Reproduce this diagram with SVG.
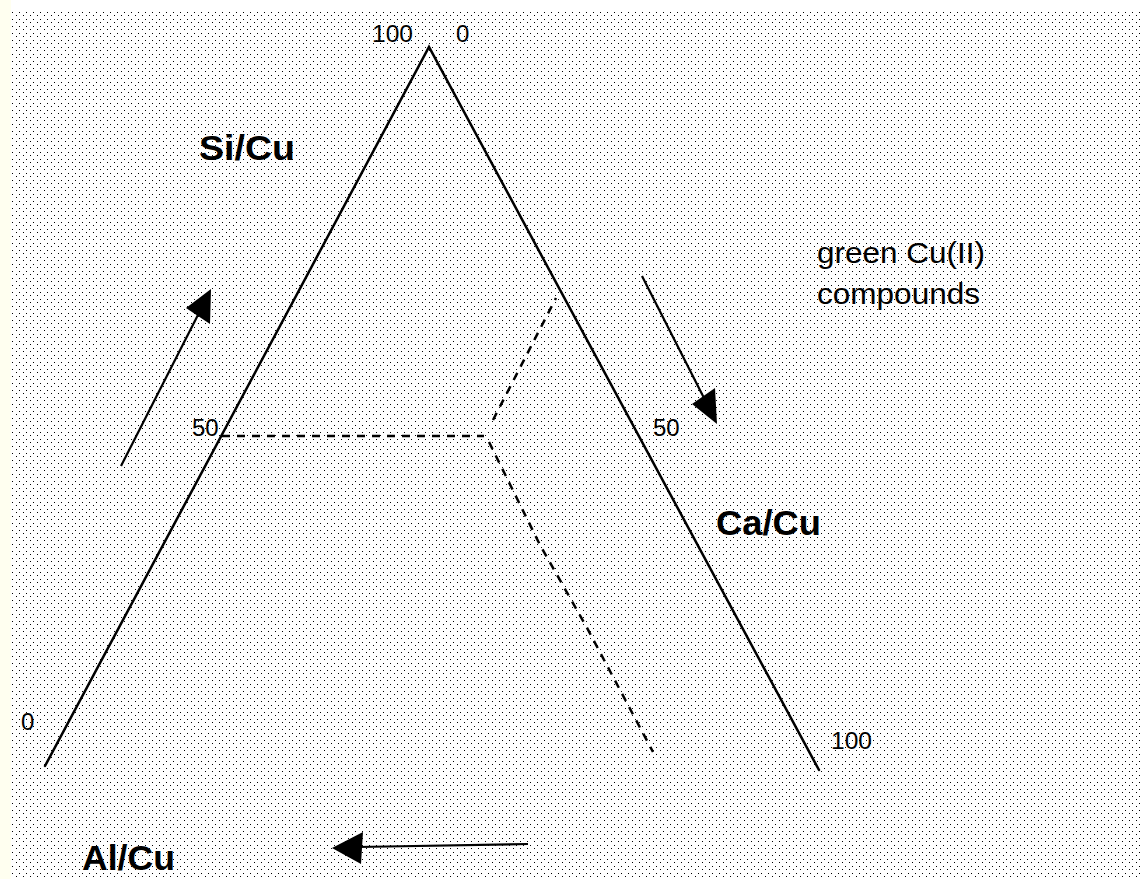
<svg xmlns="http://www.w3.org/2000/svg" width="1140" height="879" viewBox="0 0 1140 879">
  <defs>
    <pattern id="dots" patternUnits="userSpaceOnUse" x="12" y="12" width="7" height="7">
      <rect x="0" y="0" width="1" height="1" fill="#000"/>
      <rect x="4" y="3" width="1" height="1" fill="#000"/>
    </pattern>
    <style>
      .axis { fill: none; stroke: #000; stroke-width: 2.5; stroke-linecap: round; }
      .dash { fill: none; stroke: #000; stroke-width: 2.5; stroke-dasharray: 8 7; }
      .arr { fill: none; stroke: #000; stroke-width: 2.2; }
      .head { fill: #000; stroke: none; }
      .num { font-family: "Liberation Sans", Arial, sans-serif; font-size: 24px; fill: #000; }
      .lbl { font-family: "Liberation Sans", Arial, sans-serif; font-size: 35px; font-weight: bold; fill: #000; }
      .note { font-family: "Liberation Sans", Arial, sans-serif; font-size: 29px; fill: #000; }
    </style>
  </defs>

  <g id="background">
    <rect x="0" y="0" width="1140" height="879" fill="#ffffff"/>
    <rect x="0" y="0" width="11" height="879" fill="#fffff0"/>
    <rect x="11" y="12" width="1129" height="867" fill="url(#dots)"/>
  </g>

  <g id="triangle">
    <polyline class="axis" points="45,766 429,47 819,770"/>
  </g>

  <g id="boundaries">
    <line class="dash" x1="222" y1="436" x2="484" y2="436"/>
    <line class="dash" x1="493" y1="420" x2="556" y2="298"/>
    <polyline class="dash" points="489,442 540,545 586,626 653,752"/>
  </g>

  <g id="connectors">
    <g id="arrow-si">
      <line class="arr" x1="121" y1="466" x2="201" y2="309"/>
      <polygon class="head" points="211,289 186,308 210,324"/>
    </g>
    <g id="arrow-ca">
      <line class="arr" x1="642" y1="276" x2="705" y2="400"/>
      <polygon class="head" points="717,424 692,404 715,388"/>
    </g>
    <g id="arrow-al">
      <line class="arr" x1="528" y1="844" x2="358" y2="847"/>
      <polygon class="head" points="332,848 363,832 361,864"/>
    </g>
  </g>

  <g id="tick-labels">
    <text class="num" x="372" y="42" textLength="41" lengthAdjust="spacingAndGlyphs">100</text>
    <text class="num" x="456" y="42">0</text>
    <text class="num" x="192" y="436">50</text>
    <text class="num" x="653" y="436">50</text>
    <text class="num" x="21" y="730">0</text>
    <text class="num" x="831" y="749" textLength="41" lengthAdjust="spacingAndGlyphs">100</text>
  </g>

  <g id="label-si">
    <text class="lbl" x="199" y="160" textLength="96" lengthAdjust="spacingAndGlyphs">Si/Cu</text>
  </g>
  <g id="label-ca">
    <text class="lbl" x="716" y="535" textLength="105" lengthAdjust="spacingAndGlyphs">Ca/Cu</text>
  </g>
  <g id="label-al">
    <text class="lbl" x="82" y="870" textLength="93" lengthAdjust="spacingAndGlyphs">Al/Cu</text>
  </g>
  <g id="label-green">
    <text class="note" x="817" y="263" textLength="168" lengthAdjust="spacingAndGlyphs">green Cu(II)</text>
    <text class="note" x="817" y="304" textLength="163" lengthAdjust="spacingAndGlyphs">compounds</text>
  </g>
</svg>
